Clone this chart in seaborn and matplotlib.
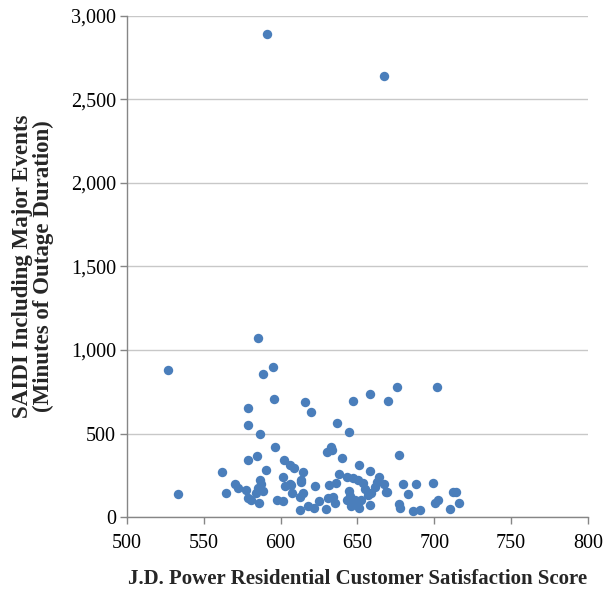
import matplotlib
matplotlib.use("Agg")
import matplotlib.pyplot as plt
import seaborn as sns
import pandas as pd
from matplotlib.ticker import FuncFormatter, MultipleLocator

jd_score = [
    591, 667, 585, 526.5, 595, 588.5, 595.5, 616, 620, 578.5, 578.5, 586.5, 596.5,
    584.5, 578.5, 562, 533.5, 602, 606, 609, 614.5, 590.5, 601.5, 613.5, 613.5,
    622.5, 586.5, 587.5, 570.5, 572, 577.5, 585.5, 588.5, 584, 564.5, 578.5, 580.5,
    586, 597.5, 601.5, 603, 606, 607.5, 612.5, 614.5, 612.5, 618, 622, 625,
    647, 658, 676, 702, 670, 637, 644.5, 630, 632.5, 633.5, 640, 677, 651,
    658, 664, 638, 643, 647, 650.5, 653.5, 662.5, 667, 661.5, 655, 659, 668.5,
    636, 631.5, 644.5, 645, 643.5, 648.5, 650.5, 652.5, 657, 658, 646, 651,
    634, 631, 635.5, 629.5, 680, 688, 699, 683, 677, 677.5, 686, 691, 700.5,
    702.5, 712, 714, 716, 710, 607, 669,
]
saidi = [
    2890, 2640, 1070, 880, 900, 857, 707, 687, 627, 653, 553, 499, 419,
    367, 341, 271, 136, 341, 311, 291, 271, 282, 242, 222, 208,
    188, 224, 198, 198, 172, 160, 172, 156, 146, 146, 112, 100,
    86, 100, 96, 188, 198, 142, 122, 142, 40, 68, 56, 94,
    695, 737, 777, 777, 695, 565, 509, 391, 417, 401, 355, 371, 310,
    277, 242, 258, 242, 234, 222, 202, 212, 198, 182, 166, 146, 148,
    202, 192, 156, 126, 102, 102, 82, 102, 132, 72, 68, 52,
    122, 112, 82, 46, 198, 198, 206, 138, 76, 52, 36, 42, 82,
    102, 148, 148, 82, 48, 192, 150,
]

df = pd.DataFrame({"score": jd_score, "saidi": saidi})

sns.set_theme(style="white")
plt.rcParams["font.family"] = ["Liberation Serif", "DejaVu Serif"]

fig = plt.figure(figsize=(6.06, 5.90), dpi=100)
ax = fig.add_axes([0.2096, 0.1237, 0.7604, 0.8493])

sns.scatterplot(data=df, x="score", y="saidi", ax=ax, color="#4a7ebb",
                s=46, linewidth=0, zorder=3)

ax.set_xlim(500, 800)
ax.set_ylim(0, 3000)
ax.xaxis.set_major_locator(MultipleLocator(50))
ax.yaxis.set_major_locator(MultipleLocator(500))
ax.yaxis.set_major_formatter(FuncFormatter(lambda v, p: f"{int(v):,}"))
ax.grid(axis="y", color="#c8c8c8", linewidth=1)
ax.set_axisbelow(True)

for s in ["top", "right"]:
    ax.spines[s].set_visible(False)
for s in ["left", "bottom"]:
    ax.spines[s].set_color("#868686")
    ax.spines[s].set_linewidth(1)
ax.tick_params(axis="both", which="major", direction="out", length=5, width=1,
               color="#868686", labelsize=14.5, labelcolor="black", bottom=True, left=True)
ax.tick_params(axis="x", pad=7)
ax.tick_params(axis="y", pad=3)

ax.set_xlabel("J.D. Power Residential Customer Satisfaction Score",
              fontsize=15, fontweight="bold", labelpad=12)
ax.set_ylabel("SAIDI Including Major Events\n(Minutes of Outage Duration)",
              fontsize=16.5, fontweight="bold", labelpad=12, linespacing=1.0)

fig.savefig("out.png", dpi=100)
